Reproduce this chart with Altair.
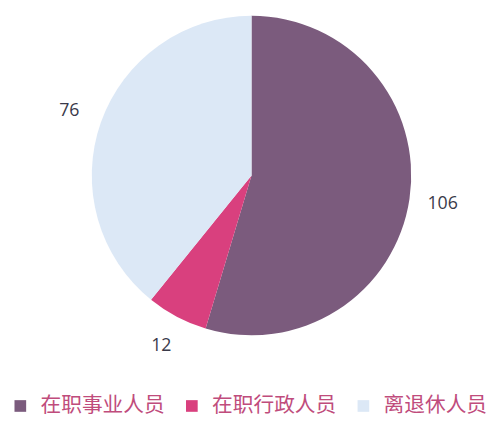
import altair as alt
import pandas as pd

categories = ["在职事业人员", "在职行政人员", "离退休人员"]
values = [106, 12, 76]
colors = ["#7b5b7d", "#d9407e", "#dce8f6"]

df = pd.DataFrame({"cat": categories, "value": values, "ord": [0, 1, 2]})

base = alt.Chart(df).encode(
    theta=alt.Theta("value:Q", stack=True),
    order=alt.Order("ord:Q"),
)

arcs = base.mark_arc(outerRadius=162, stroke=None).encode(
    color=alt.Color(
        "cat:N",
        scale=alt.Scale(domain=categories, range=colors),
        sort=categories,
        legend=alt.Legend(
            title=None,
            orient="none",
            legendX=2,
            legendY=390,
            direction="horizontal",
            symbolType="square",
            symbolSize=140,
            symbolStrokeWidth=0,
            labelFont="Noto Sans CJK SC",
            labelFontSize=21,
            labelColor="#c04c7c",
            labelOffset=10,
            columnPadding=17,
            labelLimit=300,
            padding=0,
        ),
    )
)

labels = base.mark_text(
    radius=196, font="Open Sans", fontSize=18, color="#3a3a4a"
).encode(text="value:Q")

chart = (arcs + labels).properties(
    width=494, height=334, autosize=alt.AutoSizeParams(type="pad"), padding=0
).configure_view(stroke=None)

chart.save("out.html", embed_options={"renderer": "svg", "actions": False})
